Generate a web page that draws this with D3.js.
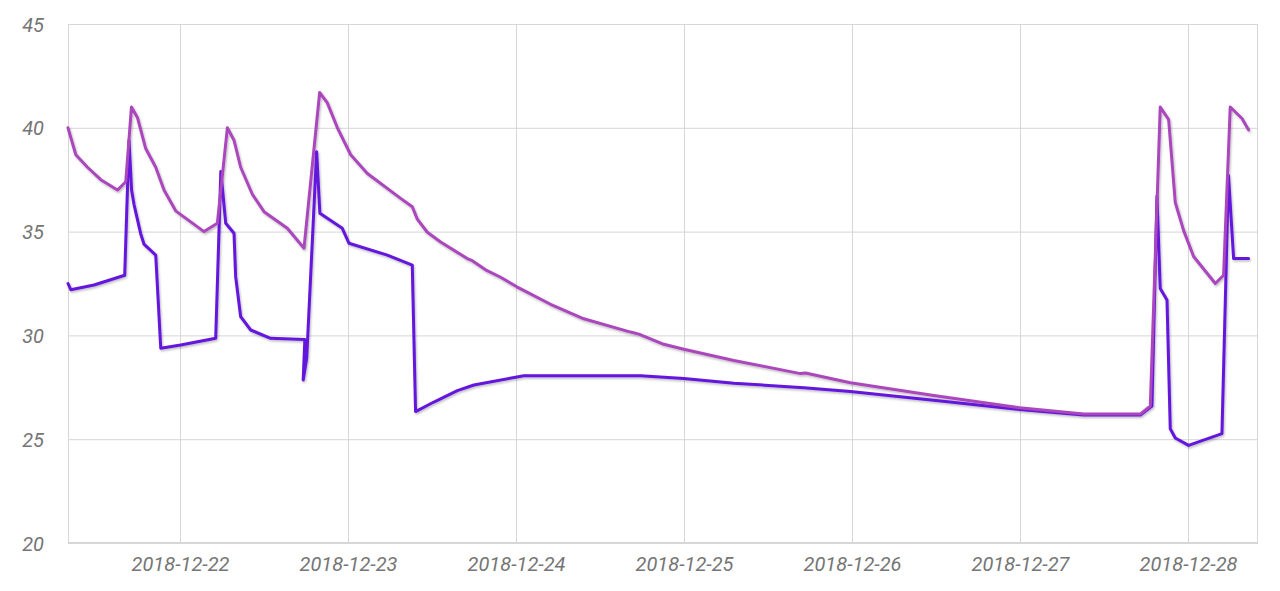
<!DOCTYPE html>
<html>
<head>
<meta charset="utf-8">
<script src="https://cdn.jsdelivr.net/npm/d3@7"></script>
<style>
  html, body { margin: 0; padding: 0; background: #ffffff; }
  svg { display: block; }
  .tick text { font-family: Roboto, "Noto Sans", sans-serif; font-style: italic; font-size: 20px; fill: #757575; }
</style>
</head>
<body>
<svg id="chart" width="1280" height="591"></svg>
<script>
// ---- Data ----
const yTicks = [20, 25, 30, 35, 40, 45];
const xDomain = ["2018-12-21 08:00", "2018-12-28 10:00"];

const purpleTimes = [
  "2018-12-21 08:00", "2018-12-21 08:24", "2018-12-21 11:43", "2018-12-21 16:06", "2018-12-21 16:43",
  "2018-12-21 17:05", "2018-12-21 17:26", "2018-12-21 18:23", "2018-12-21 18:51", "2018-12-21 20:32",
  "2018-12-21 21:15", "2018-12-22 00:06", "2018-12-22 05:06", "2018-12-22 05:50", "2018-12-22 06:32",
  "2018-12-22 07:43", "2018-12-22 07:57", "2018-12-22 08:40", "2018-12-22 10:06", "2018-12-22 12:57",
  "2018-12-22 17:50", "2018-12-22 17:36", "2018-12-22 18:06", "2018-12-22 19:31", "2018-12-22 19:59",
  "2018-12-22 23:11", "2018-12-23 00:08", "2018-12-23 05:37", "2018-12-23 09:11", "2018-12-23 09:39",
  "2018-12-23 12:16", "2018-12-23 15:37", "2018-12-23 17:59", "2018-12-24 01:07", "2018-12-24 17:47",
  "2018-12-24 23:58", "2018-12-25 07:07", "2018-12-25 17:07", "2018-12-25 23:46", "2018-12-26 11:40",
  "2018-12-26 23:57", "2018-12-27 09:05", "2018-12-27 17:11", "2018-12-27 18:51", "2018-12-27 19:34",
  "2018-12-27 20:02", "2018-12-27 21:00", "2018-12-27 21:28", "2018-12-27 22:11", "2018-12-28 00:05",
  "2018-12-28 04:51", "2018-12-28 05:47", "2018-12-28 06:31", "2018-12-28 08:39"
];
const purpleValues = [
  32.5, 32.2, 32.43, 32.9, 39.4,
  37.0, 36.3, 34.9, 34.4, 33.87,
  29.38, 29.54, 29.86, 37.9, 35.4,
  34.92, 32.83, 30.9, 30.26, 29.86,
  29.8, 27.85, 28.9, 38.85, 35.88,
  35.16, 34.44, 33.87, 33.39, 26.33,
  26.79, 27.34, 27.61, 28.06, 28.06,
  27.92, 27.7, 27.48, 27.3, 26.88,
  26.43, 26.16, 26.16, 26.6, 36.7,
  32.26, 31.7, 25.5, 25.06, 24.7,
  25.27, 37.7, 33.7, 33.7
];

const magentaTimes = [
  "2018-12-21 08:00", "2018-12-21 09:07", "2018-12-21 10:47", "2018-12-21 12:41", "2018-12-21 15:04",
  "2018-12-21 16:15", "2018-12-21 17:04", "2018-12-21 17:55", "2018-12-21 19:06", "2018-12-21 20:32",
  "2018-12-21 21:43", "2018-12-21 23:23", "2018-12-22 03:26", "2018-12-22 05:20", "2018-12-22 06:46",
  "2018-12-22 07:43", "2018-12-22 08:40", "2018-12-22 10:20", "2018-12-22 12:00", "2018-12-22 15:20",
  "2018-12-22 17:43", "2018-12-22 19:57", "2018-12-22 21:03", "2018-12-22 22:29", "2018-12-23 00:23",
  "2018-12-23 02:46", "2018-12-23 07:31", "2018-12-23 09:11", "2018-12-23 09:54", "2018-12-23 11:20",
  "2018-12-23 13:14", "2018-12-23 17:02", "2018-12-23 17:45", "2018-12-23 19:39", "2018-12-23 21:48",
  "2018-12-24 00:07", "2018-12-24 04:56", "2018-12-24 09:41", "2018-12-24 16:22", "2018-12-24 17:33",
  "2018-12-24 21:07", "2018-12-24 23:58", "2018-12-25 07:07", "2018-12-25 16:38", "2018-12-25 17:21",
  "2018-12-25 23:46", "2018-12-26 11:40", "2018-12-26 23:57", "2018-12-27 09:05", "2018-12-27 17:11",
  "2018-12-27 18:37", "2018-12-27 20:02", "2018-12-27 21:14", "2018-12-27 22:11", "2018-12-27 23:22",
  "2018-12-28 00:48", "2018-12-28 03:54", "2018-12-28 05:05", "2018-12-28 06:02", "2018-12-28 07:43",
  "2018-12-28 08:39"
];
const magentaValues = [
  40.0, 38.7, 38.1, 37.5, 37.0,
  37.4, 41.0, 40.5, 39.0, 38.1,
  37.0, 36.0, 35.0, 35.4, 40.0,
  39.4, 38.1, 36.8, 35.96, 35.16,
  34.2, 41.7, 41.2, 40.0, 38.7,
  37.8, 36.6, 36.2, 35.6, 34.97,
  34.5, 33.7, 33.6, 33.16, 32.8,
  32.34, 31.5, 30.8, 30.16, 30.06,
  29.57, 29.33, 28.79, 28.16, 28.19,
  27.72, 27.1, 26.52, 26.21, 26.21,
  26.6, 41.0, 40.4, 36.4, 35.06,
  33.8, 32.5, 32.9, 41.0, 40.45,
  39.9
];

const seriesColors = ["#6415dc", "#ab47bc"];

// ---- Chart ----
const parse = d3.timeParse("%Y-%m-%d %H:%M");
const margin = { left: 68, right: 1258, top: 24, bottom: 543 };

const x = d3.scaleTime().domain(xDomain.map(parse)).range([margin.left, margin.right]);
const y = d3.scaleLinear().domain([20, 45]).range([margin.bottom, margin.top]);

const svg = d3.select("#chart");

const defs = svg.append("defs");
const f = defs.append("filter").attr("id", "shadow")
  .attr("x", "-5%").attr("y", "-5%").attr("width", "110%").attr("height", "110%");
f.append("feDropShadow").attr("dx", 1).attr("dy", 1.5).attr("stdDeviation", 1)
  .attr("flood-color", "#000").attr("flood-opacity", 0.28);

// horizontal gridlines
svg.append("g")
  .attr("transform", `translate(${margin.left},0)`)
  .call(d3.axisLeft(y).tickValues(yTicks).tickSize(-(margin.right - margin.left)).tickFormat(""))
  .call(g => g.select(".domain").remove())
  .call(g => g.selectAll("line").attr("stroke", "#d6d6d6").attr("stroke-width", 1));

// vertical gridlines
const dayTicks = d3.timeDay.range(d3.timeDay.ceil(x.domain()[0]), x.domain()[1]);
svg.append("g")
  .attr("transform", `translate(0,${margin.bottom})`)
  .call(d3.axisBottom(x).tickValues(dayTicks).tickSize(-(margin.bottom - margin.top)).tickFormat(""))
  .call(g => g.select(".domain").remove())
  .call(g => g.selectAll("line").attr("stroke", "#d6d6d6").attr("stroke-width", 1));

// plot frame
svg.append("rect")
  .attr("x", margin.left + 0.5).attr("y", margin.top + 0.5)
  .attr("width", margin.right - margin.left - 1).attr("height", margin.bottom - margin.top - 1)
  .attr("fill", "none").attr("stroke", "#d6d6d6").attr("stroke-width", 1);

// y labels
svg.append("g")
  .attr("transform", `translate(44,0)`)
  .call(d3.axisLeft(y).tickValues(yTicks).tickSize(0).tickPadding(0))
  .call(g => g.select(".domain").remove())
  .call(g => g.selectAll("text").attr("dy", "0.35em"));

// x labels
svg.append("g")
  .attr("transform", `translate(0,${margin.bottom})`)
  .call(d3.axisBottom(x).tickValues(dayTicks).tickSize(0).tickPadding(0).tickFormat(d3.timeFormat("%Y-%m-%d")))
  .call(g => g.select(".domain").remove())
  .call(g => g.selectAll("text").attr("y", 28).attr("dy", 0));

// lines
const line = d3.line().x(d => x(d.t)).y(d => y(d.v));
const series = [
  purpleTimes.map((t, i) => ({ t: parse(t), v: purpleValues[i] })),
  magentaTimes.map((t, i) => ({ t: parse(t), v: magentaValues[i] }))
];
svg.append("g").attr("filter", "url(#shadow)")
  .selectAll("path").data(series).join("path")
  .attr("d", line)
  .attr("fill", "none")
  .attr("stroke", (d, i) => seriesColors[i])
  .attr("stroke-width", 3)
  .attr("stroke-linejoin", "round")
  .attr("stroke-linecap", "round");
</script>
</body>
</html>
